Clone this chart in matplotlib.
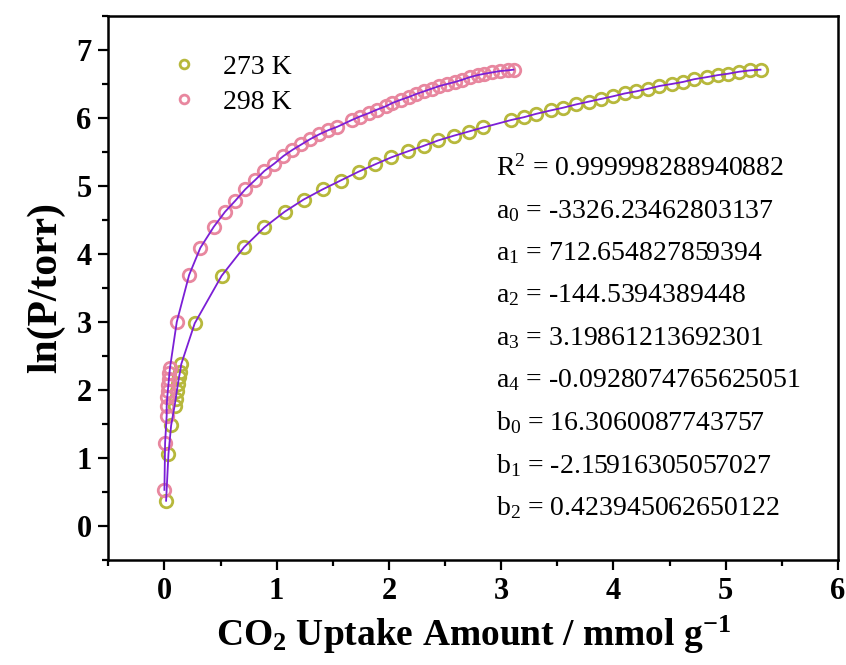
import numpy as np
import matplotlib
matplotlib.use("Agg")
import matplotlib.pyplot as plt

# CO2 uptake (mmol/g) vs ln(P/torr)
uptake_273 = [0.015, 0.036, 0.06, 0.09, 0.10, 0.11, 0.12, 0.13, 0.14, 0.15,
              0.27, 0.51, 0.71, 0.89, 1.07, 1.24, 1.41, 1.57, 1.73, 1.88,
              2.02, 2.17, 2.31, 2.44, 2.58, 2.71, 2.84, 3.09, 3.20, 3.31,
              3.44, 3.55, 3.67, 3.78, 3.89, 4.00, 4.10, 4.20, 4.31, 4.41,
              4.52, 4.62, 4.72, 4.83, 4.93, 5.02, 5.12, 5.22, 5.31]
lnp_273 = [0.37, 1.06, 1.48, 1.76, 1.86, 1.98, 2.08, 2.19, 2.27, 2.38,
           2.98, 3.68, 4.10, 4.39, 4.62, 4.80, 4.95, 5.08, 5.21, 5.32,
           5.42, 5.51, 5.59, 5.67, 5.74, 5.80, 5.86, 5.97, 6.01, 6.06,
           6.11, 6.15, 6.20, 6.24, 6.28, 6.32, 6.36, 6.39, 6.43, 6.47,
           6.50, 6.53, 6.57, 6.60, 6.63, 6.65, 6.68, 6.70, 6.71]

uptake_298 = [0.00, 0.006, 0.02, 0.02, 0.025, 0.03, 0.035, 0.04, 0.045, 0.05,
              0.11, 0.22, 0.32, 0.44, 0.54, 0.63, 0.72, 0.81, 0.89, 0.98,
              1.06, 1.14, 1.22, 1.30, 1.38, 1.46, 1.54, 1.67, 1.74, 1.82,
              1.89, 1.97, 2.03, 2.11, 2.18, 2.24, 2.31, 2.38, 2.45, 2.52,
              2.59, 2.65, 2.72, 2.79, 2.85, 2.92, 2.99, 3.06, 3.11]
lnp_298 = [0.53, 1.22, 1.62, 1.76, 1.89, 1.98, 2.07, 2.16, 2.25, 2.33,
           3.00, 3.69, 4.09, 4.40, 4.62, 4.78, 4.95, 5.09, 5.22, 5.33,
           5.44, 5.53, 5.61, 5.69, 5.76, 5.82, 5.87, 5.97, 6.02, 6.07,
           6.12, 6.17, 6.22, 6.27, 6.31, 6.35, 6.39, 6.43, 6.47, 6.50,
           6.53, 6.56, 6.60, 6.63, 6.65, 6.67, 6.69, 6.70, 6.71]

series_labels = ["273 K", "298 K"]

fit_lines = [
    r"R$^{2}$ = 0.999998288940882",
    r"a$_{0}$ = -3326.23462803137",
    r"a$_{1}$ = 712.654827859394",
    r"a$_{2}$ = -144.5394389448",
    r"a$_{3}$ = 3.19861213692301",
    r"a$_{4}$ = -0.0928074765625051",
    r"b$_{0}$ = 16.3060087743757",
    r"b$_{1}$ = -2.15916305057027",
    r"b$_{2}$ = 0.423945062650122",
]

plt.rcParams["font.family"] = ["Liberation Serif", "DejaVu Serif"]
plt.rcParams["mathtext.fontset"] = "custom"
plt.rcParams["mathtext.rm"] = "Liberation Serif"
plt.rcParams["mathtext.it"] = "Liberation Serif:italic"
plt.rcParams["mathtext.bf"] = "Liberation Serif:bold"

OLIVE = "#b7b83c"
PINK = "#e8879f"
FIT = "#7b1fd6"

fig = plt.figure(figsize=(8.46, 6.65), dpi=100)
ax = fig.add_axes([0.128, 0.158, 0.8625, 0.818])

ax.plot(uptake_273, lnp_273, "o", ms=9, mfc="none", mec=OLIVE, mew=2.0,
        label=series_labels[0], zorder=2)
ax.plot(uptake_298, lnp_298, "o", ms=9, mfc="none", mec=PINK, mew=2.0,
        label=series_labels[1], zorder=2)
ax.plot(uptake_273, lnp_273, "-", color=FIT, lw=1.3, zorder=3)
ax.plot(uptake_298, lnp_298, "-", color=FIT, lw=1.3, zorder=3)

ax.set_xlim(-0.5, 6)
ax.set_ylim(-0.5, 7.5)
ax.set_xticks(np.arange(0, 7, 1))
ax.set_xticks(np.arange(-0.5, 6.01, 0.5), minor=True)
ax.set_yticks(np.arange(0, 8, 1))
ax.set_yticks(np.arange(-0.5, 7.51, 0.5), minor=True)

for s in ax.spines.values():
    s.set_linewidth(1.8)
ax.tick_params(which="major", direction="out", length=7, width=1.6,
               labelsize=22, pad=5)
ax.tick_params(which="minor", direction="out", length=4, width=1.6)
for lab in ax.get_xticklabels() + ax.get_yticklabels():
    lab.set_fontweight("bold")

ax.set_xlabel(r"CO$_{\mathbf{2}}$ Uptake Amount / mmol g$^{\mathbf{-1}}$",
              fontsize=27, fontweight="bold", labelpad=6)
ax.set_ylabel("ln(P/torr)", fontsize=30, fontweight="bold", labelpad=8)

leg = ax.legend(loc="upper left", bbox_to_anchor=(0.05, 0.975), frameon=False,
                fontsize=20, markerscale=0.7, handlelength=1.0,
                handletextpad=0.9, labelspacing=0.35)

# Virial fit parameters block
y0 = 0.72
for i, txt in enumerate(fit_lines):
    ax.text(0.532, y0 - i * 0.078, txt, transform=ax.transAxes,
            fontsize=20, va="center", ha="left")

fig.savefig("out.png", dpi=100)
